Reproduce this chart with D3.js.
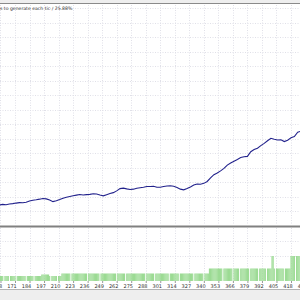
<!DOCTYPE html>
<html>
<head>
<meta charset="utf-8">
<script src="https://cdn.jsdelivr.net/npm/d3@7"></script>
<style>
   body { margin: 0; background: #ffffff; }
   svg { display: block; font-family: 'DejaVu Sans', sans-serif; }
</style>
</head>
<body>
<script>
   // chart data
   let trades = [157, 160, 163, 166, 169, 172, 175, 178, 181, 184, 187, 190, 193, 196, 199, 202, 205, 208, 211, 214,
                 217, 220, 223, 226, 229, 232, 235, 238, 241, 244, 247, 250, 253, 256, 259, 262, 265, 268, 271, 274,
                 277, 280, 283, 286, 289, 292, 295, 298, 301, 304, 307, 310, 313, 316, 319, 322, 325, 328, 331, 334,
                 337, 340, 343, 346, 349, 352, 355, 358, 361, 364, 367, 370, 373, 376, 379, 382, 385, 388, 391, 394,
                 397, 400, 403, 406, 409, 412, 415, 418, 421, 424, 427];
   let balance = [10430, 10470, 10450, 10500, 10520, 10560, 10590, 10580, 10620, 10700, 10760, 10790, 10830, 10880, 10850, 10770, 10660, 10720, 10800, 10900,
                  10960, 11010, 11060, 11110, 11150, 11120, 11140, 11160, 11200, 11190, 11120, 11060, 11140, 11220, 11280, 11400, 11560, 11590, 11540, 11500,
                  11520, 11580, 11620, 11650, 11700, 11700, 11720, 11650, 11650, 11700, 11740, 11760, 11720, 11640, 11520, 11470, 11560, 11670, 11800, 11880,
                  11860, 11920, 12050, 12300, 12520, 12640, 12780, 12950, 13180, 13330, 13450, 13560, 13700, 13760, 13780, 14100, 14250, 14340, 14520, 14680,
                  14860, 15030, 14960, 14910, 14920, 14800, 14900, 15060, 15150, 15450, 15520];
   // lot size runs: [first trade, last trade, lots]
   let lotRuns = [[157, 194, 0.2], [195, 201, 0.26], [202, 212, 0.2], [213, 344, 0.3], [345, 400, 0.5],
                  [401, 402, 1.0], [403, 417, 0.5], [418, 427, 1.0]];
   let gapTrades = [161, 166, 172, 181, 188, 203, 209, 221, 236, 247, 262, 270, 288, 296, 309, 318, 331, 340,
                    357, 366, 372, 381, 389, 396, 404, 412, 422];
   let xTicks = [158, 171, 184, 197, 210, 223, 236, 249, 262, 275, 288, 301, 314, 327, 340, 353, 366, 379, 392, 405, 418, 431];
   let yTicks = [10000, 11000, 12000, 13000, 14000, 15000, 16000, 17000, 18000, 19000, 20000, 21000, 22000, 23000, 24000];
   let lotTicks = [1.0, 1.6];
   let headerText = 's to generate each tic / 25.88%';

   // variables for svg (canvas)
   let width = 300;
   let height = 300;
   let mainTop = 5;
   let mainBottom = 225;
   let volTop = 228;
   let volBottom = 281;
   let svg = d3.select('body').append('svg');

   let xScale;
   let yScale;
   let lotScale;
   let lots = [];

   let drawCanvas = () => {
      svg.attr('width', width)
         .attr('height', height);
      // top strip
      svg.append('rect').attr('x', 0).attr('y', 0).attr('width', width).attr('height', 3).attr('fill', '#eeeeee');
      svg.append('line').attr('x1', 0).attr('x2', width).attr('y1', 3.5).attr('y2', 3.5)
         .attr('stroke', '#8a8a8a').attr('stroke-width', 1);
      // bottom strip
      svg.append('rect').attr('x', 0).attr('y', 290).attr('width', width).attr('height', 10).attr('fill', '#eeeeee');
      svg.append('line').attr('x1', 0).attr('x2', width).attr('y1', 289.5).attr('y2', 289.5)
         .attr('stroke', '#b4b4b4').attr('stroke-width', 1);
   }

   let generateScales = () => {
      xScale = d3.scaleLinear()
                 .domain([171, 418])
                 .range([15, 291]);
      yScale = d3.scaleLinear()
                 .domain([10000, 24000])
                 .range([211.2, 8.2]);
      lotScale = d3.scaleLinear()
                 .domain([0, 2])
                 .range([volBottom, volBottom - 50]);
      lotRuns.forEach((run) => {
         for (let t = run[0]; t <= run[1]; t++) {
            if (gapTrades.indexOf(t) < 0) lots.push([t, run[2]]);
         }
      });
   }

   let drawGrid = () => {
      let grid = svg.append('g').attr('stroke', '#e0e0e8').attr('stroke-dasharray', '1,1.5').attr('stroke-width', 1);
      grid.selectAll('.vgrid')
          .data(xTicks)
          .enter()
          .append('line')
          .attr('x1', (d) => Math.round(xScale(d)) + 0.5)
          .attr('x2', (d) => Math.round(xScale(d)) + 0.5)
          .attr('y1', mainTop)
          .attr('y2', mainBottom);
      grid.selectAll('.vgrid2')
          .data(xTicks)
          .enter()
          .append('line')
          .attr('x1', (d) => Math.round(xScale(d)) + 0.5)
          .attr('x2', (d) => Math.round(xScale(d)) + 0.5)
          .attr('y1', volTop)
          .attr('y2', volBottom);
      grid.selectAll('.hgrid')
          .data(yTicks)
          .enter()
          .append('line')
          .attr('x1', 0)
          .attr('x2', width)
          .attr('y1', (d) => Math.round(yScale(d)) + 0.5)
          .attr('y2', (d) => Math.round(yScale(d)) + 0.5);
      grid.selectAll('.lgrid')
          .data(lotTicks)
          .enter()
          .append('line')
          .attr('x1', 0)
          .attr('x2', width)
          .attr('y1', (d) => Math.round(lotScale(d)) + 0.5)
          .attr('y2', (d) => Math.round(lotScale(d)) + 0.5);
   }

   let drawBalance = () => {
      let line = d3.line()
                   .x((d) => xScale(d[0]))
                   .y((d) => yScale(d[1]));
      svg.append('path')
         .datum(trades.map((t, i) => [t, balance[i]]))
         .attr('d', line)
         .attr('fill', 'none')
         .attr('stroke', '#22228c')
         .attr('stroke-width', 1.1);
   }

   let drawBars = () => {
      let step = xScale(1) - xScale(0);
      svg.append('g')
         .selectAll('rect')
         .data(lots)
         .enter()
         .append('rect')
         .attr('x', (d) => xScale(d[0]) - step / 2)
         .attr('width', step + 0.05)
         .attr('y', (d) => lotScale(d[1]))
         .attr('height', (d) => volBottom - lotScale(d[1]))
         .attr('fill', '#9cdb94');
   }

   let drawSeparator = () => {
      svg.append('rect').attr('x', 0).attr('y', 225.5).attr('width', width).attr('height', 2)
         .attr('fill', '#808080');
   }

   let generateAxes = () => {
      let xAxis = d3.axisBottom(xScale)
                    .tickValues(xTicks)
                    .tickSize(2)
                    .tickFormat(d3.format('d'));
      let g = svg.append('g')
         .attr('transform', 'translate(0, ' + volBottom + ')')
         .call(xAxis);
      g.select('.domain').remove();
      g.selectAll('.tick line').attr('stroke', '#999999');
      g.selectAll('.tick text')
         .attr('x', -3.5)
         .attr('y', 3)
         .attr('font-size', 5)
         .attr('font-family', 'DejaVu Sans, sans-serif')
         .attr('fill', '#333333');
   }

   let generateHeader = () => {
      svg.append('text')
         .attr('x', 0)
         .attr('y', 9.5)
         .attr('font-size', 4.6)
         .attr('fill', '#333333')
         .text(headerText);
   }

   drawCanvas();
   generateScales();
   drawGrid();
   drawBars();
   drawBalance();
   drawSeparator();
   generateAxes();
   generateHeader();
</script>
</body>
</html>
